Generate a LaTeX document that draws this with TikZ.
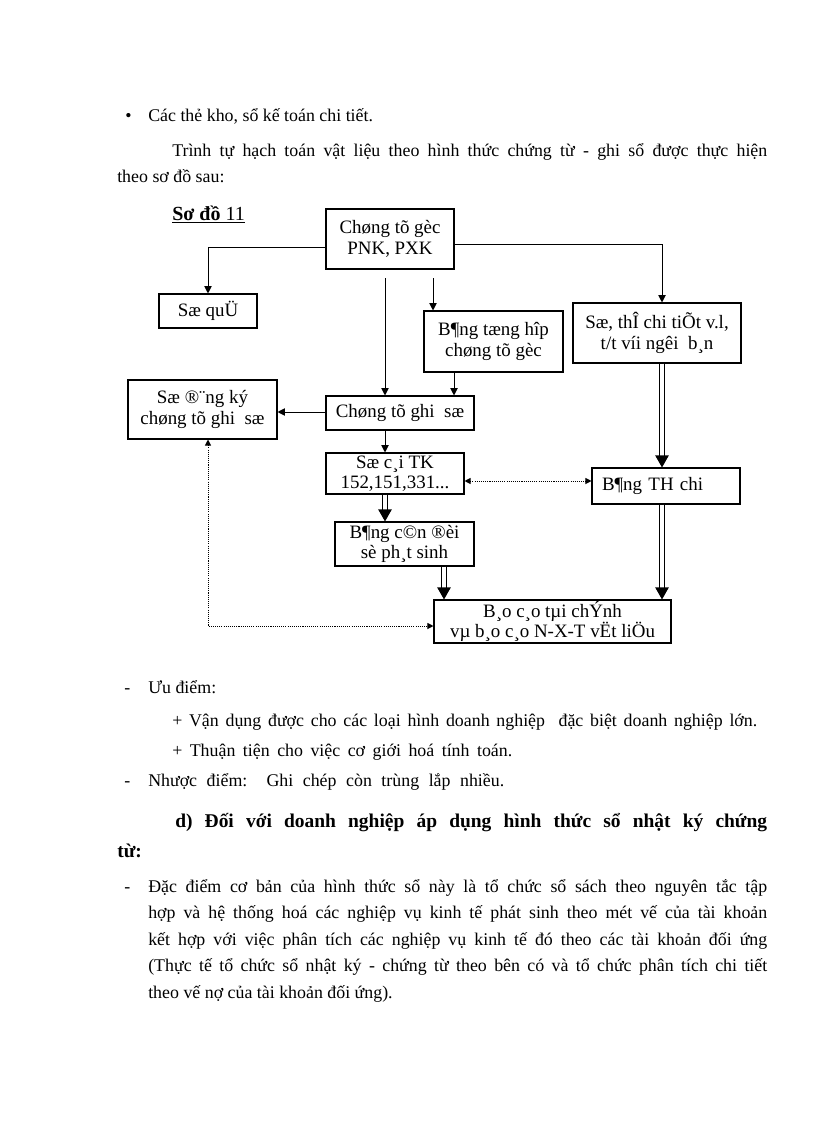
\documentclass[tikz,border=0pt]{standalone}
\usepackage{fontspec}
\setmainfont{Liberation Serif}
\usetikzlibrary{arrows.meta}
\begin{document}
\begin{tikzpicture}[x=0.75pt,y=-0.75pt,
  box/.style={draw, line width=0.8pt, inner sep=0pt, align=center, font=\fontsize{14.2}{15.4}\selectfont},
  arr/.style={line width=0.75pt, -{Triangle[length=5.5pt,width=5.5pt]}},
  dbl/.style={double, double distance=2.6pt, line width=0.85pt, -{Triangle[length=9pt,width=10pt]}},
  dotarr/.style={line width=0.75pt, dash pattern=on 0.8pt off 0.8pt, {Triangle[length=4.5pt,width=4.5pt]}-{Triangle[length=4.5pt,width=4.5pt]}},
  txt/.style={anchor=base west, inner sep=0pt, font=\fontsize{13.4}{16}\selectfont},
  head/.style={txt, font=\fontsize{14.6}{17}\selectfont\bfseries}]
\useasboundingbox (0,0) rectangle (816,1123);

% ---- body text above the diagram
\node[txt] (b1) at (125,122) {•};
\node[txt] (t1) at (148,122) {Các thẻ kho, sổ kế toán chi tiết.};
\node[txt] (t2) at (172,157) {\makebox[446.25pt][s]{Trình tự hạch toán vật liệu theo hình thức chứng từ - ghi sổ được thực hiện}};
\node[txt] (t3) at (117,183) {theo sơ đồ sau:};
\node[txt, font=\fontsize{15}{17}\selectfont] (t4) at (172,220) {\underline{\textbf{Sơ đồ} 11}};

% ---- diagram boxes
\node[box, minimum width=96pt, minimum height=45pt] (A) at (390,239) {Chøng tõ gèc\\PNK, PXK};
\node[box, minimum width=73.5pt, minimum height=25.5pt] (B) at (208,311) {Sæ quÜ};
\node[box, minimum width=104.25pt, minimum height=45.75pt] (C) at (493.5,341.5) {B¶ng tæng hîp\\chøng tõ gèc};
\node[box, minimum width=126pt, minimum height=45pt] (D) at (657,333) {Sæ, thÎ chi tiÕt v.l,\\t/t víi ngêi\ \ b¸n};
\node[box, minimum width=111.75pt, minimum height=44.25pt] (E) at (202.5,409.5) {Sæ ®¨ng ký\\chøng tõ ghi\ \ sæ};
\node[box, minimum width=111pt, minimum height=25.5pt] (F) at (400,413) {Chøng tõ ghi\ \ sæ};
\node[box, minimum width=103.5pt, minimum height=30.75pt] (G) at (395,473.5) {Sæ c¸i TK\\152,151,331...};
\node[box, minimum height=27pt, text width=96pt, inner xsep=7.5pt, align=left] (H) at (666,486) {B¶ng TH chi};
\node[box, minimum width=104.25pt, minimum height=33pt] (I) at (404.5,544) {B¶ng c©n ®èi\\sè ph¸t sinh};
\node[box, minimum width=177.75pt, minimum height=32.25pt] (J) at (552.5,621.5) {B¸o c¸o tµi chÝnh\\vµ b¸o c¸o N-X-T vËt liÖu};

% ---- connectors
\coordinate (s1) at (385,278);
\coordinate (s2) at (433,278);
\draw[arr] (A.west |- 0,247) -| (B.north);
\draw[arr] (A.east |- 0,244) -| (D.north -| 662,0);
\draw[arr] (s1) -- (s1 |- F.north);
\draw[arr] (s2) -- (s2 |- C.north);
\draw[arr] (C.south -| 454,0) -- (F.north -| 454,0);
\draw[arr] (F.west |- 0,412) -- (E.east |- 0,412);
\draw[arr] (F.south -| 385,0) -- (G.north -| 385,0);
\draw[dbl] (G.south -| 385,0) -- (I.north -| 385,0);
\draw[dbl] (I.south -| 444,0) -- (J.north -| 444,0);
\draw[dbl] (D.south -| 662,0) -- (H.north -| 662,0);
\draw[dbl] (H.south -| 662,0) -- (J.north -| 662,0);
\draw[dotarr] (G.east |- 0,481) -- (H.west |- 0,481);
\draw[dotarr] (E.south -| 208,0) |- (J.west |- 0,626);

% ---- body text below the diagram
\node[txt] (d1) at (124,693) {-};
\node[txt] (u1) at (148,693) {Ưu điểm:};
\node[txt] (u2) at (172,726) {\makebox[438.75pt][s]{+ Vận dụng được cho các loại hình doanh nghiệp\ \ đặc biệt doanh nghiệp lớn.}};
\node[txt] (u3) at (172,756) {\makebox[255pt][s]{+ Thuận tiện cho việc cơ giới hoá tính toán.}};
\node[txt] (d2) at (124,786) {-};
\node[txt] (n1) at (148,786) {\makebox[267pt][s]{Nhược điểm:\ \ Ghi chép còn trùng lắp nhiều.}};
\node[head] (h1) at (175,827) {\makebox[444pt][s]{d) Đối với doanh nghiệp áp dụng hình thức sổ nhật ký chứng}};
\node[head] (h2) at (117,857) {từ:};
\node[txt] (d3) at (124,892) {-};
\node[txt] (p1) at (148,892) {\makebox[464.25pt][s]{Đặc điểm cơ bản của hình thức sổ này là tổ chức sổ sách theo nguyên tắc tập}};
\node[txt] (p2) at (148,918) {\makebox[464.25pt][s]{hợp và hệ thống hoá các nghiệp vụ kinh tế phát sinh theo mét vế của tài khoản}};
\node[txt] (p3) at (148,945) {\makebox[464.25pt][s]{kết hợp với việc phân tích các nghiệp vụ kinh tế đó theo các tài khoản đối ứng}};
\node[txt] (p4) at (148,971) {\makebox[464.25pt][s]{(Thực tế tổ chức sổ nhật ký - chứng từ theo bên có và tổ chức phân tích chi tiết}};
\node[txt] (p5) at (148,998) {theo vế nợ của tài khoản đối ứng).};
\end{tikzpicture}
\end{document}
